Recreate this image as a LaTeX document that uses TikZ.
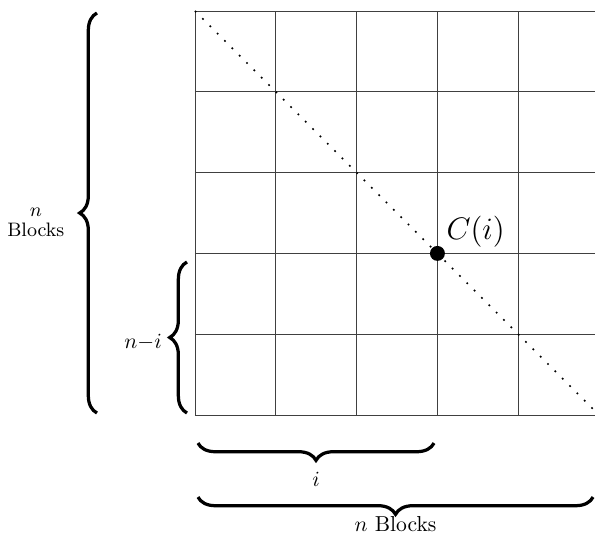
\documentclass[tikz,border=0pt]{standalone}
\usepackage{amsmath, amssymb}
\usepackage{tikz}
\usetikzlibrary{calc, decorations.pathreplacing, positioning}

\begin{document}
\begin{tikzpicture}[>=latex, x=1.313cm, y=1.313cm,
    curly/.style={decorate, decoration={brace, amplitude=8pt}, line width=1.5pt}]
    \useasboundingbox (-2.413,-1.522) rectangle (4.95,5.136);

    % Lưới các khối
    \begin{scope}
        \clip (-0.1,-0.1) rectangle (4.95,5.1);
        \foreach \k in {0,...,5} {
            \draw[black!75] (\k,0) -- (\k,5);
            \draw[black!75] (0,\k) -- (5,\k);
        }
        % Đường chéo
        \draw[thick, loosely dotted] (0,5) -- (5,0);
    \end{scope}

    % Điểm C(i)
    \node[circle, fill, inner sep=0pt, minimum size=6.9pt] (C) at (3,2) {};
    \node[anchor=south west, font=\Large, inner sep=2pt, xshift=2pt, yshift=0.5pt] (Clab) at (C.center) {$C(i)$};

    % Dấu ngoặc bên trái
    \coordinate (L1) at (-1.213,0.025);
    \coordinate (L2) at (-1.213,4.975);
    \draw[curly] (L1) -- (L2)
        node[midway, left=11pt, yshift=-4.4pt, align=center, font=\small] (nLeft) {$n$\\[-2pt]Blocks};
    \coordinate (S1) at (-0.099,0.025);
    \coordinate (S2) at (-0.099,1.894);
    \draw[curly] (S1) -- (S2)
        node[midway, left=7.6pt, yshift=-2pt] (nmi) {$n{-}i$};

    % Dấu ngoặc bên dưới
    \coordinate (B1) at (0.037,-0.347);
    \coordinate (B2) at (2.958,-0.347);
    \draw[curly] (B2) -- (B1)
        node[midway, below=9.5pt] (iLab) {$i$};
    \coordinate (D1) at (0.037,-1.015);
    \coordinate (D2) at (4.926,-1.015);
    \draw[curly] (D2) -- (D1)
        node[midway, below=5pt] (nBot) {$n$ Blocks};
\end{tikzpicture}
\end{document}
